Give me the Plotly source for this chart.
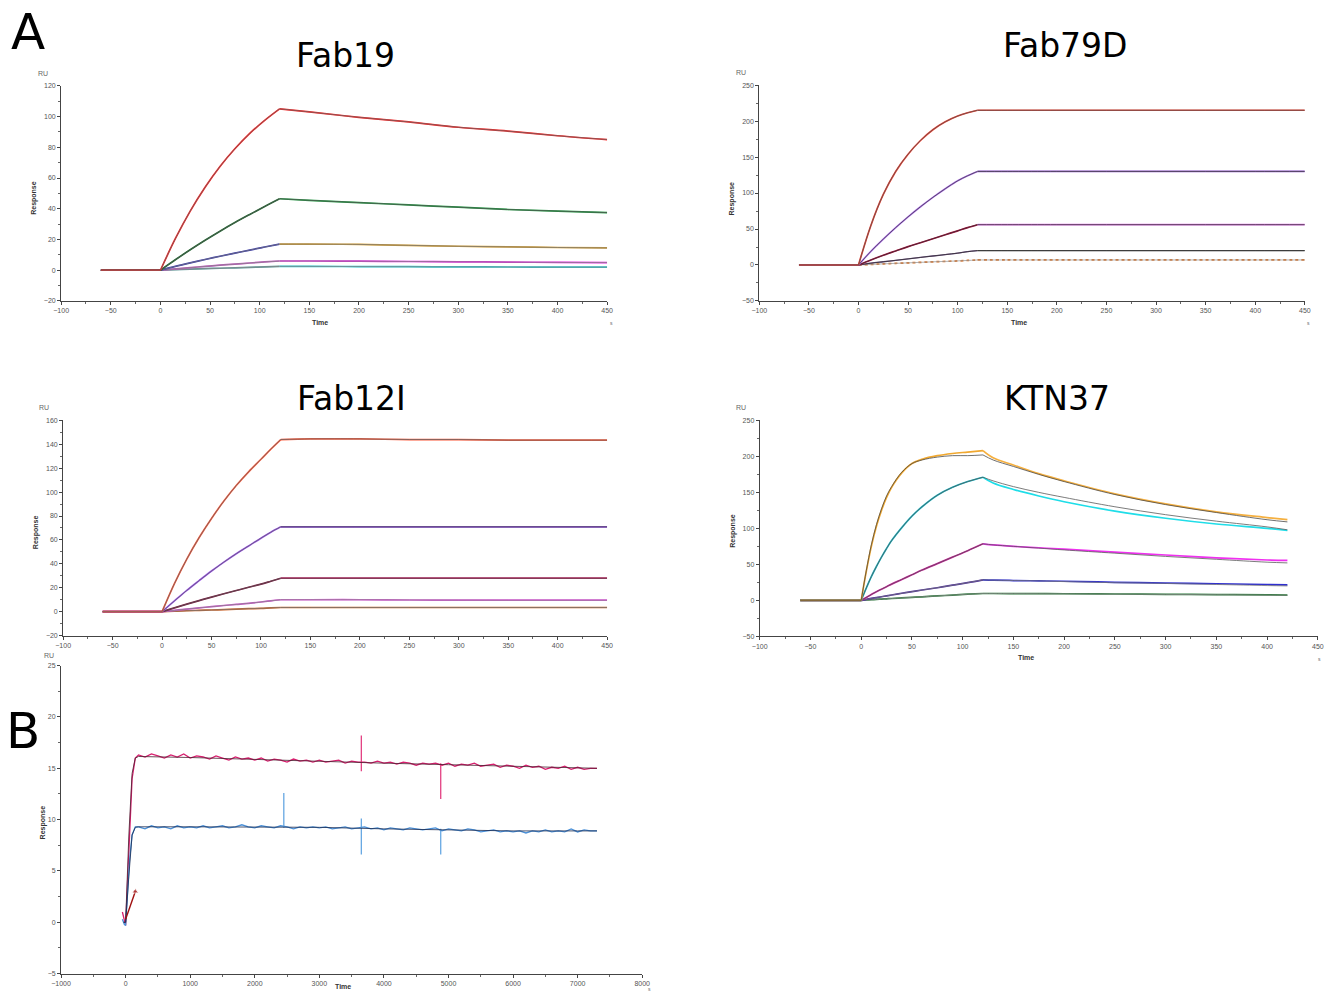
import plotly.graph_objects as go

W, H = 1327, 992          # reference picture size (figure size too)
# measured page->picture calibration of the photographing step
CAL_AX, CAL_BX, CAL_AY, CAL_BY = 0.9855, 10.4, 0.992, 4.0

# ---------------- Data ----------------
# Fab19 : association 0-120 s, dissociation 120-450 s
T_FAB19 = [-60, 0, 15, 30, 45, 60, 75, 90, 105, 120, 150, 200, 250, 300, 350, 400, 450]
FAB19_C1 = [0, 0, 20.5, 38.5, 54, 67.5, 79, 89, 97.5, 105, 103, 99.5, 96.5, 93, 90.5, 87.5, 85]
FAB19_C2 = [0, 0, 6.8, 13.3, 19.5, 25.4, 31, 36.3, 41.5, 46.5, 45.5, 44, 42.5, 41, 39.5, 38.5, 37.5]
FAB19_C3 = [0, 0, 2.5, 4.8, 7, 9.1, 11.1, 13.1, 15.1, 17, 17, 16.8, 16.2, 15.6, 15.2, 14.8, 14.5]
FAB19_C4 = [0, 0, 0.9, 1.7, 2.5, 3.3, 4, 4.7, 5.4, 6, 6, 5.9, 5.7, 5.5, 5.3, 5.1, 5]
FAB19_C5 = [0, 0, 0.4, 0.7, 1.0, 1.3, 1.6, 1.9, 2.2, 2.5, 2.5, 2.4, 2.3, 2.2, 2.1, 2.0, 2.0]

# Fab79D
T_FAB79D = [-60, 0, 12.5, 25, 37.5, 50, 62.5, 75, 87.5, 100, 110, 120, 150, 200, 250, 300, 350, 400, 450]
FAB79D_C1 = [0, 0, 55, 98, 130, 154, 173, 188, 199, 207, 211.5, 215, 215, 215, 215, 215, 215, 215, 215]
FAB79D_C2 = [0, 0, 19, 36, 52, 67, 81, 94, 106, 117, 124, 130, 130, 130, 130, 130, 130, 130, 130]
FAB79D_C3 = [0, 0, 7, 13.5, 19.5, 25.5, 31, 36.5, 42, 47.5, 52, 56, 56, 56, 56, 56, 56, 56, 56]
FAB79D_C4 = [0, 0, 2.5, 4.5, 6.5, 8.5, 10.5, 12.5, 14.5, 16.5, 18.5, 20, 20, 20, 20, 20, 20, 20, 20]
FAB79D_C5 = [0, 0, 0.8, 1.6, 2.3, 3, 3.7, 4.4, 5, 5.7, 6.3, 7, 7, 7, 7, 7, 7, 7, 7]

# Fab12I
T_FAB12I = [-60, 0, 12.5, 25, 37.5, 50, 62.5, 75, 87.5, 100, 110, 120, 150, 200, 250, 300, 350, 400, 450]
FAB12I_C1 = [0, 0, 23.5, 44, 62, 78, 92.5, 105.5, 117, 127.5, 136, 144, 144.5, 144.5, 144, 144, 143.5, 143.5, 143.5]
FAB12I_C2 = [0, 0, 9, 17.8, 26, 34, 41.5, 48.5, 55, 61.5, 66.5, 71, 71, 71, 71, 71, 71, 71, 71]
FAB12I_C3 = [0, 0, 3.2, 6.3, 9.3, 12.2, 15, 17.7, 20.4, 23, 25.5, 28, 28, 28, 28, 28, 28, 28, 28]
FAB12I_C4 = [0, 0, 1.1, 2.2, 3.2, 4.2, 5.2, 6.1, 7, 8.1, 9.1, 10, 10, 10, 9.8, 9.7, 9.6, 9.6, 9.6]
FAB12I_C5 = [0, 0, 0.4, 0.8, 1.1, 1.4, 1.8, 2.1, 2.5, 2.8, 3.2, 3.5, 3.5, 3.5, 3.5, 3.5, 3.5, 3.5, 3.5]

# KTN37 (measured data and fitted curves differ)
T_KTN37 = [-60, 0, 5, 10, 15, 20, 25, 30, 40, 50, 60, 75, 90, 105, 120, 130, 150, 175, 200, 250, 300, 350, 400, 420]
KTN37_C1 = [0, 0, 40, 75, 103, 125, 143, 157, 177, 190, 196, 201, 204, 206, 208, 198, 188, 176, 166, 148, 134, 123, 115, 112]
KTN37_F1 = [0, 0, 41, 77, 105, 127, 145, 158, 178, 190, 195, 199, 201, 201, 202, 195, 186, 175, 165, 147, 133, 122, 112, 109]
KTN37_C2 = [0, 0, 17, 33, 47, 60, 72, 83, 101, 117, 130, 146, 157, 165, 171, 163, 154, 145, 137, 124, 114, 106, 100, 97]
KTN37_F2 = [0, 0, 17, 33, 47, 60, 72, 83, 101, 117, 130, 146, 157, 165, 171, 166, 158, 150, 143, 130, 119, 110, 102, 98]
KTN37_C3 = [0, 0, 4, 8, 12, 15.5, 19, 22.5, 29, 35.5, 42, 51, 60, 69, 78.5, 77, 75, 73, 71, 67, 63, 59, 56, 55.5]
KTN37_F3 = [0, 0, 4, 8, 12, 15.5, 19, 22.5, 29, 35.5, 42, 51, 60, 69, 78.5, 77, 75, 72.5, 70, 65.5, 61, 57, 53, 52]
KTN37_C4 = [0, 0, 1.3, 2.6, 3.8, 5, 6.2, 7.4, 9.8, 12, 14.3, 17.5, 21, 24.5, 28.5, 28, 27.5, 27, 26.5, 25, 24, 23, 22, 21.5]
KTN37_F4 = [0, 0, 1.3, 2.6, 3.8, 5, 6.2, 7.4, 9.8, 12, 14.3, 17.5, 21, 24.5, 28.5, 28, 27.5, 27, 26, 24.5, 23.5, 22, 20.5, 20]
KTN37_C5 = [0, 0, 0.4, 0.8, 1.3, 1.7, 2.1, 2.5, 3.3, 4.1, 4.9, 6.1, 7.3, 8.5, 9.5, 9.5, 9.4, 9.3, 9.1, 8.8, 8.4, 8, 7.5, 7.3]
KTN37_F5 = [0, 0, 0.4, 0.8, 1.3, 1.7, 2.1, 2.5, 3.3, 4.1, 4.9, 6.1, 7.3, 8.5, 9.5, 9.5, 9.4, 9.2, 9.0, 8.6, 8.2, 7.8, 7.2, 7.0]

# Panel B : long dissociation
B_RISE_T = [-50, -20, 0, 30, 60, 100, 150]
B_RISE_PINK = [1.0, 0.2, -0.3, 4, 9, 14, 16.0]
B_RISE_BLUE = [0.3, -0.2, -0.3, 3, 6, 8.5, 9.3]
B_T = list(range(200, 7400, 100))
B_PINK = [16.3, 16.1, 16.4, 16.2, 16.0, 16.3, 16.1, 16.4, 16.0, 16.2,
          16.1, 15.9, 16.2, 16.0, 15.8, 16.1, 15.9, 16.0, 15.8, 16.0,
          15.7, 15.9, 15.8, 15.6, 15.9, 15.7, 15.8, 15.6, 15.8, 15.6,
          15.7, 15.8, 15.5, 15.7, 15.6, 15.6, 15.5, 15.7, 15.5, 15.6,
          15.4, 15.6, 15.5, 15.3, 15.5, 15.4, 15.5, 15.3, 15.5, 15.2,
          15.4, 15.3, 15.5, 15.2, 15.3, 15.4, 15.1, 15.3, 15.2, 15.0,
          15.3, 15.1, 15.2, 14.9, 15.1, 15.0, 15.2, 14.9, 15.1, 14.9,
          15.0, 15.0]
B_BLUE = [9.3, 9.1, 9.4, 9.2, 9.3, 9.1, 9.4, 9.2, 9.3, 9.2,
          9.4, 9.2, 9.3, 9.4, 9.2, 9.3, 9.5, 9.3, 9.2, 9.4,
          9.3, 9.2, 9.4, 9.3, 9.1, 9.3, 9.2, 9.3, 9.2, 9.3,
          9.1, 9.2, 9.3, 9.1, 9.2, 9.3, 9.1, 9.2, 9.0, 9.2,
          9.1, 9.0, 9.2, 9.1, 9.0, 9.1, 9.2, 8.9, 9.1, 9.0,
          8.9, 9.1, 9.0, 8.8, 8.9, 9.0, 8.8, 8.9, 8.8, 8.9,
          8.7, 8.9, 8.8, 9.0, 8.8, 8.9, 8.8, 9.1, 8.8, 9.0,
          8.9, 8.9]
B_PINK_SPIKE_T = [3650, 4880]
B_PINK_SPIKE_HI = [18.2, 15.5]
B_PINK_SPIKE_LO = [14.7, 12.0]
B_BLUE_SPIKE_T = [2450, 3650, 4880]
B_BLUE_SPIKE_HI = [12.6, 10.1, 9.1]
B_BLUE_SPIKE_LO = [9.2, 6.6, 6.6]
B_FIT_T = [-30, 0, 50, 100, 150, 200, 1000, 2000, 3000, 4000, 5000, 6000, 7000, 7300]
B_FIT_PINK = [0, 0, 8.5, 14.5, 16.0, 16.15, 16.05, 15.85, 15.65, 15.5, 15.35, 15.2, 15.05, 15.0]
B_FIT_BLUE = [0, 0, 4.5, 8.5, 9.25, 9.3, 9.3, 9.3, 9.25, 9.1, 9.0, 8.9, 8.9, 8.9]
B_ARROW_T = [0, 150]
B_ARROW_R = [0.3, 3.0]

# ---------------- Styles ----------------
FIT = "#3a3a3a"
fig = go.Figure()


def px2x(p):
    return min(1.0, max(0.0, ((p - CAL_BX) / CAL_AX) / W))


def px2y(p):
    return min(1.0, max(0.0, 1 - ((p - CAL_BY) / CAL_AY) / H))


def seg(ax, t, v, color, width, dash=None, shape="linear", opacity=1.0):
    xa = "x" if ax == 1 else f"x{ax}"
    ya = "y" if ax == 1 else f"y{ax}"
    fig.add_trace(go.Scatter(x=t, y=v, mode="lines", xaxis=xa, yaxis=ya, opacity=opacity,
                             line=dict(color=color, width=width, shape=shape, dash=dash),
                             showlegend=False, hoverinfo="skip"))


def add_curve(ax, t, vals, c_assoc, c_dis, fit=None, fitcol=FIT, width=1.7, dash=None):
    i0 = t.index(0)
    i1 = t.index(120)
    fv = vals if fit is None else fit
    for v, (ca, cd, w, d, op) in [(vals, (c_assoc, c_dis, width, dash, 1.0)),
                                  (fv, (fitcol, fitcol, 0.9, None, 0.85))]:
        seg(ax, t[:i0 + 1], v[:i0 + 1], ca, w, d, "linear", op)
        seg(ax, t[i0:i1 + 1], v[i0:i1 + 1], ca, w, d, "spline", op)
        seg(ax, t[i1:], v[i1:], cd, w, d, "spline", op)


# Fab19
add_curve(1, T_FAB19, FAB19_C5, "#5a9a9a", "#22c4cc", fitcol="#888888")
add_curve(1, T_FAB19, FAB19_C4, "#c050c0", "#e020e0", fitcol="#888888")
add_curve(1, T_FAB19, FAB19_C3, "#3838b0", "#d8a030", fitcol="#777777")
add_curve(1, T_FAB19, FAB19_C2, "#1f6a30", "#1f9a40", fitcol="#555555")
add_curve(1, T_FAB19, FAB19_C1, "#ff2020", "#ff2020", fitcol="#666666")

# Fab79D
add_curve(2, T_FAB79D, FAB79D_C5, "#e07020", "#e07020", fitcol="#999999", dash="dot")
add_curve(2, T_FAB79D, FAB79D_C4, "#6a4a80", "#555555", fitcol="#333333", width=1.3)
add_curve(2, T_FAB79D, FAB79D_C3, "#b01040", "#e070e8", fitcol="#333333")
add_curve(2, T_FAB79D, FAB79D_C2, "#b070f0", "#9050d0", fitcol="#444444")
add_curve(2, T_FAB79D, FAB79D_C1, "#f04030", "#f04030", fitcol="#555555")

# Fab12I
add_curve(3, T_FAB12I, FAB12I_C5, "#d06020", "#c86020", fitcol="#777777")
add_curve(3, T_FAB12I, FAB12I_C4, "#d050d0", "#e050e0", fitcol="#888888")
add_curve(3, T_FAB12I, FAB12I_C3, "#801840", "#c02060", fitcol="#555555")
add_curve(3, T_FAB12I, FAB12I_C2, "#9a50f0", "#7030c0", fitcol="#666666")
add_curve(3, T_FAB12I, FAB12I_C1, "#ff5a3a", "#ff5a3a", fitcol="#666666")

# KTN37
add_curve(4, T_KTN37, KTN37_C5, "#2a7a3a", "#2a7a3a", fit=KTN37_F5, fitcol="#888888")
add_curve(4, T_KTN37, KTN37_C4, "#4a2aa0", "#3030d0", fit=KTN37_F4, fitcol="#777777")
add_curve(4, T_KTN37, KTN37_C3, "#d020a0", "#f030f0", fit=KTN37_F3, fitcol="#555555")
add_curve(4, T_KTN37, KTN37_C2, "#18b8c8", "#20dde8", fit=KTN37_F2, fitcol="#555555")
add_curve(4, T_KTN37, KTN37_C1, "#f0a830", "#f5b040", fit=KTN37_F1, fitcol="#444444")

# Panel B
seg(5, B_RISE_T + B_T, B_RISE_PINK + B_PINK, "#d81e6e", 1.3)
seg(5, B_RISE_T + B_T, B_RISE_BLUE + B_BLUE, "#4a90d8", 1.3)
sx, sy = [], []
for t, hi, lo in zip(B_PINK_SPIKE_T, B_PINK_SPIKE_HI, B_PINK_SPIKE_LO):
    sx += [t, t, None]
    sy += [hi, lo, None]
seg(5, sx, sy, "#e03078", 1.2)
sx, sy = [], []
for t, hi, lo in zip(B_BLUE_SPIKE_T, B_BLUE_SPIKE_HI, B_BLUE_SPIKE_LO):
    sx += [t, t, None]
    sy += [hi, lo, None]
seg(5, sx, sy, "#5aa0e0", 1.2)
seg(5, B_FIT_T, B_FIT_PINK, "#4a2030", 1.0, opacity=0.8)
seg(5, B_FIT_T, B_FIT_BLUE, "#1a2a50", 1.0, opacity=0.8)
fig.add_trace(go.Scatter(x=B_ARROW_T, y=B_ARROW_R, mode="lines+markers", xaxis="x5", yaxis="y5",
                         line=dict(color="#a01010", width=1.4),
                         marker=dict(symbol="triangle-up", size=[0, 6], color="#a01010"),
                         showlegend=False, hoverinfo="skip"))

# ---------------- Axes ----------------
TICKFONT = dict(family="Liberation Sans, Arial, sans-serif", size=7, color="#555555")


def axis(dom, rng, dtick, mdtick, anchor):
    return dict(domain=dom, range=rng, dtick=dtick, tick0=rng[0], showgrid=False, zeroline=False,
                showline=True, linecolor="#444444", linewidth=1, ticks="outside", ticklen=3,
                tickcolor="#444444", tickwidth=1, tickfont=TICKFONT, anchor=anchor,
                minor=dict(ticks="outside", ticklen=2, dtick=mdtick, tick0=rng[0], tickcolor="#666666", showgrid=False),
                fixedrange=True)


panels = [
    # x pixel left, right ; y pixel top, bottom ; xrange ; xdtick ; xminor ; yrange ; ydtick ; yminor
    (61.5, 607, 85.7, 300.7, [-100, 450], 50, 25, [-20, 120], 20, 10),
    (759, 1304, 85, 300.7, [-100, 450], 50, 25, [-50, 250], 50, 25),
    (63.5, 607, 420, 635, [-100, 450], 50, 25, [-20, 160], 20, 10),
    (759.4, 1317, 420, 635.7, [-100, 450], 50, 25, [-50, 250], 50, 25),
    (61.4, 642, 665, 972.7, [-1000, 8000], 1000, 500, [-5, 25], 5, 2.5),
]
lay = {}
for k, (xl, xr, yt, yb, xrng, xd, xm, yrng, yd, ym) in enumerate(panels, start=1):
    sfx = "" if k == 1 else str(k)
    lay["xaxis" + sfx] = axis([px2x(xl), px2x(xr)], xrng, xd, xm, "y" + sfx)
    lay["yaxis" + sfx] = axis([px2y(yb), px2y(yt)], yrng, yd, ym, "x" + sfx)

# ---------------- Text ----------------
ann = []


def text(px, py, s, size, color="#000000", family="DejaVu Sans, sans-serif", angle=0, bold=False):
    ann.append(dict(x=px2x(px), y=px2y(py), xref="paper", yref="paper", text=("<b>%s</b>" % s) if bold else s,
                    showarrow=False, xanchor="center", yanchor="middle", textangle=angle,
                    font=dict(family=family, size=size, color=color)))


text(28, 32, "A", 50)
text(23, 730, "B", 50)
text(346, 55, "Fab19", 33)
text(1065, 45, "Fab79D", 33)
text(352, 398, "Fab12I", 33)
text(1056, 398, "KTN37", 33)

SMALL = "Liberation Sans, Arial, sans-serif"
# RU labels
for rx, ry in [(43, 73), (741, 72), (44, 407), (741, 407), (49, 655)]:
    text(rx, ry, "RU", 7, color="#666666", family=SMALL)
# Time labels
for tx, ty in [(320, 322), (1018, 322), (1025, 657), (343, 986)]:
    text(tx, ty, "Time", 7, color="#333333", family=SMALL, bold=True)
# unit "s"
for sx2, sy2 in [(611, 323), (1308, 323), (1320, 658), (649, 988)]:
    text(sx2, sy2, "s", 5, color="#666666", family=SMALL)
# Response labels
for rsx, rsy in [(35, 198), (732, 198), (36, 532), (732, 530), (43, 822)]:
    text(rsx, rsy, "Response", 7, color="#333333", family=SMALL, angle=-90, bold=True)

fig.update_layout(width=W, height=H, autosize=False, margin=dict(l=0, r=0, t=0, b=0, pad=0),
                  paper_bgcolor="white", plot_bgcolor="white", showlegend=False,
                  annotations=ann, **lay)

fig.write_html("out.html", config={"displayModeBar": False, "responsive": False},
               post_script="document.body.style.margin='0';document.body.style.padding='0';"
                           "document.body.style.overflow='hidden';")
